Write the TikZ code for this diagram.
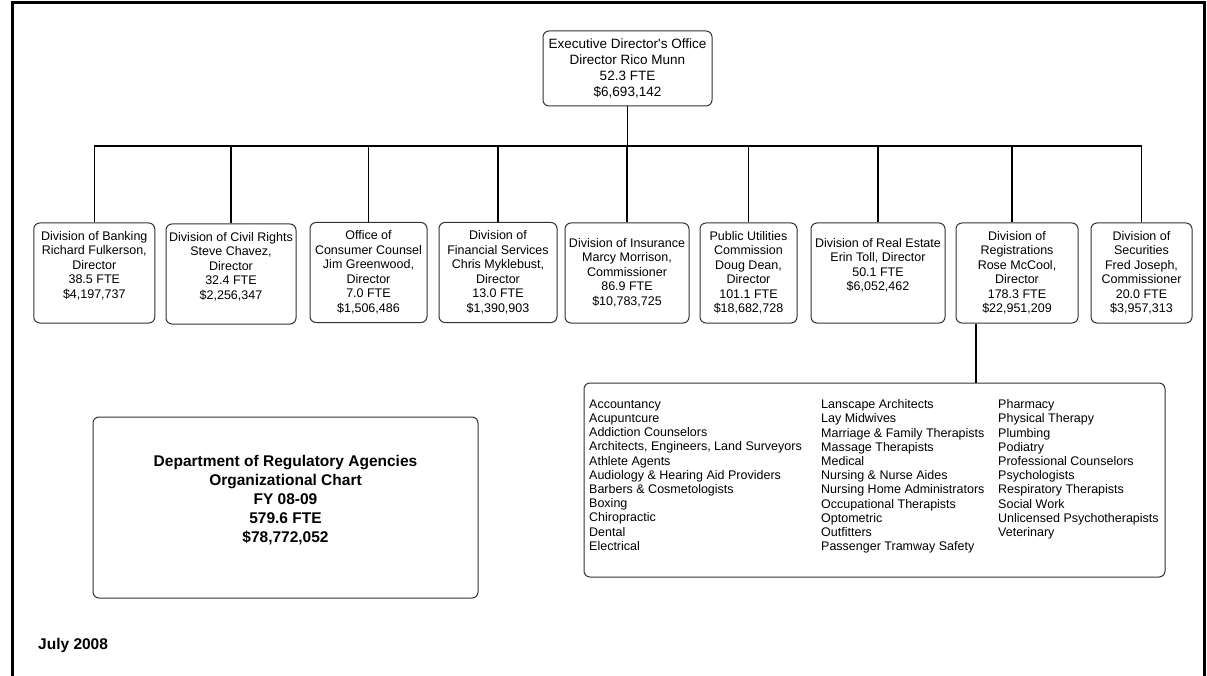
\documentclass[tikz,border=0pt]{standalone}
\usepackage{fontspec}
\setmainfont{Liberation Sans}[Ligatures=TeXOff]

\begin{document}
\begin{tikzpicture}[x=1pt,y=-1pt,
    unit/.style={draw=black!80,line width=1pt,rounded corners=6pt,minimum height=100pt,inner sep=0pt},
    unittxt/.style={anchor=north,align=center,inner sep=0pt,font=\fontsize{12.5}{14.5}\selectfont},
    listtxt/.style={anchor=north west,align=left,inner sep=0pt,font=\fontsize{12.5}{14.2}\selectfont},
    link/.style={line width=1.3pt}]
    \useasboundingbox (0,0) rectangle (1207,676);

    % frame
    \draw[line width=3pt] (12,700) -- (12,3) -- (1204,3) -- (1204,700);

    % nodes
    \node[unit,minimum width=169pt,minimum height=75pt,align=center,font=\fontsize{13.5}{16}\selectfont] (exec) at (627.5,68.5) {Executive Director's Office\\Director Rico Munn\\52.3 FTE\\\$6,693,142};

    \node[unit,minimum width=121pt] (bank) at (94.3,273) {};
    \node[unit,minimum width=130pt] (civil) at (231,274) {};
    \node[unit,minimum width=117pt] (occ) at (368.5,272.5) {};
    \node[unit,minimum width=118pt] (fin) at (498,272.5) {};
    \node[unit,minimum width=124pt] (ins) at (627,273) {};
    \node[unit,minimum width=97pt] (puc) at (748.5,273) {};
    \node[unit,minimum width=134pt] (realest) at (878,273) {};
    \node[unit,minimum width=122pt] (reg) at (1017,273) {};
    \node[unit,minimum width=101pt] (sec) at (1141.5,273) {};

    \node[unittxt] (bank-t) at (94.3,231) {Division of Banking\\Richard Fulkerson,\\Director\\38.5 FTE\\\$4,197,737};
    \node[unittxt] (civil-t) at (231,232) {Division of Civil Rights\\Steve Chavez,\\Director\\32.4 FTE\\\$2,256,347};
    \node[unittxt] (occ-t) at (368.5,230.5) {Office of\\Consumer Counsel\\Jim Greenwood,\\Director\\7.0 FTE\\\$1,506,486};
    \node[unittxt] (fin-t) at (498,230.5) {Division of\\Financial Services\\Chris Myklebust,\\Director\\13.0 FTE\\\$1,390,903};
    \node[unittxt] (ins-t) at (627,238) {Division of Insurance\\Marcy Morrison,\\Commissioner\\86.9 FTE\\\$10,783,725};
    \node[unittxt] (puc-t) at (748.5,231) {Public Utilities\\Commission\\Doug Dean,\\Director\\101.1 FTE\\\$18,682,728};
    \node[unittxt] (realest-t) at (878,238) {Division of Real Estate\\Erin Toll, Director\\50.1 FTE\\\$6,052,462};
    \node[unittxt] (reg-t) at (1017,231) {Division of\\Registrations\\Rose McCool,\\Director\\178.3 FTE\\\$22,951,209};
    \node[unittxt] (sec-t) at (1141.5,231) {Division of\\Securities\\Fred Joseph,\\Commissioner\\20.0 FTE\\\$3,957,313};

    \node[unit,minimum width=581pt,minimum height=194pt] (lic) at (874.5,480) {};
    \node[listtxt] (lic-a) at (589,399.5) {Accountancy\\Acupuntcure\\Addiction Counselors\\Architects, Engineers, Land Surveyors\\Athlete Agents\\Audiology \& Hearing Aid Providers\\Barbers \& Cosmetologists\\Boxing\\Chiropractic\\Dental\\Electrical};
    \node[listtxt] (lic-b) at (821,399.5) {Lanscape Architects\\Lay Midwives\\Marriage \& Family Therapists\\Massage Therapists\\Medical\\Nursing \& Nurse Aides\\Nursing Home Administrators\\Occupational Therapists\\Optometric\\Outfitters\\Passenger Tramway Safety};
    \node[listtxt] (lic-c) at (998,399.5) {Pharmacy\\Physical Therapy\\Plumbing\\Podiatry\\Professional Counselors\\Psychologists\\Respiratory Therapists\\Social Work\\Unlicensed Psychotherapists\\Veterinary};

    \node[unit,minimum width=385pt,minimum height=181pt] (dora) at (285.5,507.5) {};
    \node[align=center,inner sep=0pt,font=\bfseries\fontsize{15.5}{18.8}\selectfont] (dora-t) at (285.5,500) {Department of Regulatory Agencies\\Organizational Chart\\FY 08-09\\579.6 FTE\\\$78,772,052};

    \node[anchor=west,inner sep=0pt,font=\bfseries\fontsize{15.5}{18}\selectfont] (date) at (38,645) {July 2008};

    % paths
    \coordinate (bus) at (627.5,146);
    \coordinate (reg-in) at ([xshift=-5pt]reg.north);
    \coordinate (reg-out) at ([xshift=-41pt]reg.south);
    \draw[link] (exec.south) -- (bus); % Exec -> bus
    \draw[link] (bank.north) -- (bank.north |- bus) -- (sec.north |- bus) -- (sec.north); % bus
    \draw[link] (civil.north) -- (civil.north |- bus);
    \draw[link] (occ.north) -- (occ.north |- bus);
    \draw[link] (fin.north) -- (fin.north |- bus);
    \draw[link] (ins.north) -- (ins.north |- bus);
    \draw[link] (puc.north) -- (puc.north |- bus);
    \draw[link] (realest.north) -- (realest.north |- bus);
    \draw[link] (reg-in) -- (reg-in |- bus);
    \draw[link] (reg-out) -- (reg-out |- lic.north); % Registrations -> list

\end{tikzpicture}
\end{document}
